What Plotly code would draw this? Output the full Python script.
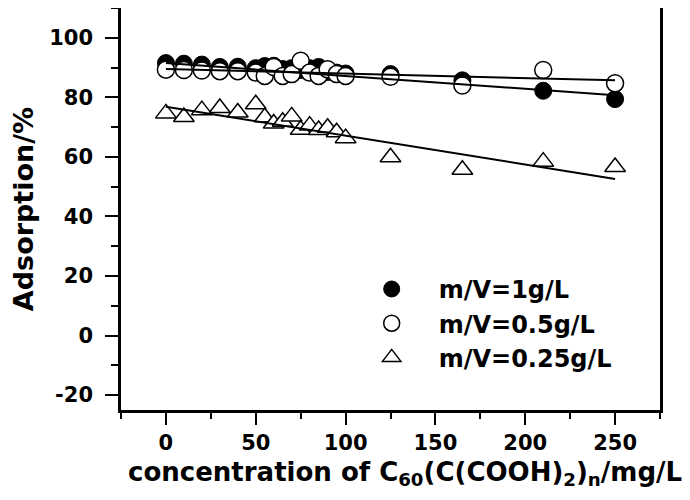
import plotly.graph_objects as go

# concentration (mg/L)
conc = [0, 10, 20, 30, 40, 50, 55, 60, 65, 70, 75, 80, 85, 90, 95, 100, 125, 165, 210, 250]
# adsorption (%) for the three dosages
ads_1g = [91.5, 91.3, 91.0, 90.2, 90.3, 89.8, 90.5, 90.6, 89.5, 89.8, 89.2, 89.8, 90.2, 88.5, 88.3, 88.0, 87.8, 85.7, 82.2, 79.4]
ads_05g = [89.3, 89.2, 89.0, 88.8, 88.8, 88.3, 87.2, 90.2, 87.2, 87.8, 92.3, 88.3, 87.2, 89.4, 87.8, 87.2, 86.9, 84.0, 89.2, 84.7]
ads_025g = [74.6, 73.4, 75.7, 76.4, 74.9, 77.7, 73.3, 71.2, 71.8, 73.6, 69.1, 70.5, 69.0, 69.8, 68.3, 66.3, 59.9, 55.7, 58.4, 56.6]

# linear fit lines (endpoints)
fit_x = [0, 250]
fit_1g = [91.5, 80.7]
fit_05g = [89.5, 85.7]
fit_025g = [76.8, 52.6]

names = ["m/V=1g/L", "m/V=0.5g/L", "m/V=0.25g/L"]

# tick labels
x_ticks = [0, 50, 100, 150, 200, 250]
y_ticks = [-20, 0, 20, 40, 60, 80, 100]
y_ticktext = ["-20", "0", "20", "40", "60", "80", "100"]

FONT = "DejaVu Sans"

fig = go.Figure()
fig.add_trace(go.Scatter(x=conc, y=ads_1g, mode="markers", name=names[0],
                         marker=dict(symbol="circle", size=17, color="black",
                                     line=dict(color="black", width=1))))
fig.add_trace(go.Scatter(x=conc, y=ads_05g, mode="markers", name=names[1],
                         marker=dict(symbol="circle", size=17, color="white",
                                     line=dict(color="black", width=1.5))))
fig.add_trace(go.Scatter(x=conc, y=ads_025g, mode="markers", name=names[2],
                         marker=dict(symbol="triangle-up", size=18, color="white",
                                     line=dict(color="black", width=1.5))))
for fy in (fit_1g, fit_05g, fit_025g):
    fig.add_trace(go.Scatter(x=fit_x, y=fy, mode="lines", showlegend=False,
                             line=dict(color="black", width=2)))

axis_common = dict(showline=True, linecolor="black", linewidth=2.5, mirror=True,
                   ticks="outside", tickwidth=2, tickcolor="black",
                   showgrid=False, zeroline=False, automargin=False,
                   tickfont=dict(family=FONT, size=21, color="black", weight="bold"))

fig.update_layout(
    width=690, height=500,
    margin=dict(l=113, r=38, t=0, b=98),
    paper_bgcolor="white", plot_bgcolor="white",
    xaxis=dict(range=[-25, 275], tickvals=x_ticks, ticklen=12,
               minor=dict(dtick=25, tick0=0, ticks="outside", ticklen=6, tickwidth=2, tickcolor="black"),
               **axis_common),
    yaxis=dict(range=[-25, 110], tickvals=y_ticks, ticktext=y_ticktext, ticklen=13,
               ticklabelstandoff=8,
               minor=dict(dtick=10, tick0=0, ticks="outside", ticklen=7, tickwidth=2, tickcolor="black"),
               title=dict(text="Adsorption/%",
                          font=dict(family=FONT, size=27, color="black", weight="bold"),
                          standoff=10),
               **axis_common),
    legend=dict(x=0.415, y=0.356, xanchor="left", yanchor="top",
                bgcolor="rgba(0,0,0,0)", itemwidth=84,
                font=dict(family=FONT, size=24, color="black", weight="bold")),
    showlegend=True,
    annotations=[dict(text="concentration of C<sub>60</sub>(C(COOH)<sub>2</sub>)<sub>n</sub>/mg/L",
                      xref="paper", yref="paper", x=0.527, y=0, xanchor="center",
                      yanchor="middle", yshift=-63, showarrow=False,
                      font=dict(family=FONT, size=26, color="black", weight="bold"))],
)

fig.write_html("out.html")
